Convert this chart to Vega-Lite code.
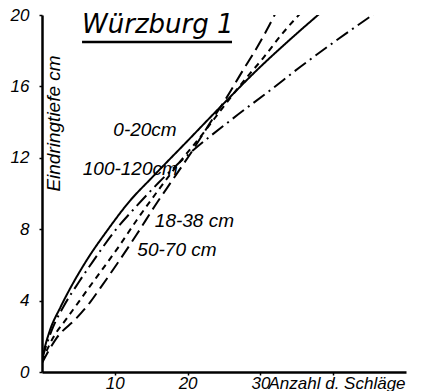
{
  "$schema": "https://vega.github.io/schema/vega-lite/v6.json",
  "width": 364,
  "height": 357,
  "autosize": {"type": "none"},
  "padding": {"left": 42, "top": 15, "right": 21, "bottom": 19},
  "background": "white",
  "config": {"view": {"stroke": null}, "font": "Liberation Sans"},
  "datasets": {
    "curves": [
      {"serie": "0-20cm", "schlaege": 0, "tiefe": 0.7},
      {"serie": "0-20cm", "schlaege": 0.4, "tiefe": 1.4},
      {"serie": "0-20cm", "schlaege": 1.1, "tiefe": 2.35},
      {"serie": "0-20cm", "schlaege": 2.5, "tiefe": 3.6},
      {"serie": "0-20cm", "schlaege": 4.3, "tiefe": 5.0},
      {"serie": "0-20cm", "schlaege": 6.2, "tiefe": 6.3},
      {"serie": "0-20cm", "schlaege": 9, "tiefe": 7.95},
      {"serie": "0-20cm", "schlaege": 12.1, "tiefe": 9.6},
      {"serie": "0-20cm", "schlaege": 15, "tiefe": 10.85},
      {"serie": "0-20cm", "schlaege": 20, "tiefe": 12.95},
      {"serie": "0-20cm", "schlaege": 24.5, "tiefe": 14.85},
      {"serie": "0-20cm", "schlaege": 30, "tiefe": 17.1},
      {"serie": "0-20cm", "schlaege": 34, "tiefe": 18.6},
      {"serie": "0-20cm", "schlaege": 38.2, "tiefe": 20.1},
      {"serie": "100-120cm", "schlaege": 0, "tiefe": 0.7},
      {"serie": "100-120cm", "schlaege": 0.6, "tiefe": 1.5},
      {"serie": "100-120cm", "schlaege": 1.5, "tiefe": 2.5},
      {"serie": "100-120cm", "schlaege": 3, "tiefe": 3.7},
      {"serie": "100-120cm", "schlaege": 5, "tiefe": 5.0},
      {"serie": "100-120cm", "schlaege": 7, "tiefe": 6.2},
      {"serie": "100-120cm", "schlaege": 10, "tiefe": 7.9},
      {"serie": "100-120cm", "schlaege": 13, "tiefe": 9.3},
      {"serie": "100-120cm", "schlaege": 16, "tiefe": 10.6},
      {"serie": "100-120cm", "schlaege": 20, "tiefe": 12.15},
      {"serie": "100-120cm", "schlaege": 25.9, "tiefe": 14.1},
      {"serie": "100-120cm", "schlaege": 31.4, "tiefe": 15.8},
      {"serie": "100-120cm", "schlaege": 35.5, "tiefe": 17.1},
      {"serie": "100-120cm", "schlaege": 40, "tiefe": 18.45},
      {"serie": "100-120cm", "schlaege": 46.1, "tiefe": 20.2},
      {"serie": "18-38 cm", "schlaege": 0, "tiefe": 0.5},
      {"serie": "18-38 cm", "schlaege": 2, "tiefe": 1.9},
      {"serie": "18-38 cm", "schlaege": 4.7, "tiefe": 3.0},
      {"serie": "18-38 cm", "schlaege": 6.6, "tiefe": 3.9},
      {"serie": "18-38 cm", "schlaege": 8, "tiefe": 4.7},
      {"serie": "18-38 cm", "schlaege": 10.3, "tiefe": 6.05},
      {"serie": "18-38 cm", "schlaege": 13, "tiefe": 7.7},
      {"serie": "18-38 cm", "schlaege": 15.5, "tiefe": 9.3},
      {"serie": "18-38 cm", "schlaege": 18, "tiefe": 10.8},
      {"serie": "18-38 cm", "schlaege": 20.5, "tiefe": 12.3},
      {"serie": "18-38 cm", "schlaege": 23, "tiefe": 13.9},
      {"serie": "18-38 cm", "schlaege": 25.4, "tiefe": 15.4},
      {"serie": "18-38 cm", "schlaege": 27.6, "tiefe": 16.9},
      {"serie": "18-38 cm", "schlaege": 29.2, "tiefe": 17.95},
      {"serie": "18-38 cm", "schlaege": 30.8, "tiefe": 19.1},
      {"serie": "18-38 cm", "schlaege": 32.2, "tiefe": 20.2},
      {"serie": "50-70 cm", "schlaege": 0, "tiefe": 0.6},
      {"serie": "50-70 cm", "schlaege": 1.5, "tiefe": 1.9},
      {"serie": "50-70 cm", "schlaege": 3.4, "tiefe": 3.0},
      {"serie": "50-70 cm", "schlaege": 5, "tiefe": 3.9},
      {"serie": "50-70 cm", "schlaege": 6.4, "tiefe": 4.7},
      {"serie": "50-70 cm", "schlaege": 8.2, "tiefe": 5.7},
      {"serie": "50-70 cm", "schlaege": 10.5, "tiefe": 7.0},
      {"serie": "50-70 cm", "schlaege": 13, "tiefe": 8.5},
      {"serie": "50-70 cm", "schlaege": 16, "tiefe": 10.2},
      {"serie": "50-70 cm", "schlaege": 19, "tiefe": 11.8},
      {"serie": "50-70 cm", "schlaege": 22, "tiefe": 13.3},
      {"serie": "50-70 cm", "schlaege": 25, "tiefe": 14.9},
      {"serie": "50-70 cm", "schlaege": 27.5, "tiefe": 16.2},
      {"serie": "50-70 cm", "schlaege": 30.4, "tiefe": 17.6},
      {"serie": "50-70 cm", "schlaege": 33.1, "tiefe": 19.0},
      {"serie": "50-70 cm", "schlaege": 35.5, "tiefe": 20.1}
    ],
    "labels": [
      {"text": "0-20cm", "schlaege": 9.8, "tiefe": 13.55},
      {"text": "100-120cm", "schlaege": 5.6, "tiefe": 11.4},
      {"text": "18-38 cm", "schlaege": 15.5, "tiefe": 8.46},
      {"text": "50-70 cm", "schlaege": 13.1, "tiefe": 6.83}
    ]
  },
  "layer": [
    {
      "data": {"name": "curves"},
      "mark": {"type": "line", "color": "black", "strokeWidth": 2, "interpolate": "monotone", "clip": true},
      "encoding": {
        "x": {
          "field": "schlaege", "type": "quantitative",
          "scale": {"domain": [0, 50], "nice": false},
          "axis": {
            "values": [10, 20, 30, 40],
            "labelExpr": "datum.value <= 30 ? datum.label : ''",
            "grid": false, "domainColor": "black", "domainWidth": 2.5,
            "tickColor": "black", "tickSize": 3, "tickWidth": 1.5,
            "labelFontSize": 17, "labelFontStyle": "italic", "labelColor": "black", "labelPadding": 0,
            "title": "Anzahl d. Schläge", "titleFontSize": 17, "titleFontStyle": "italic", "titleFontWeight": "normal",
            "titleColor": "black", "titleAlign": "left", "titleAnchor": "start", "titleBaseline": "alphabetic",
            "titleX": 226, "titleY": 16
          }
        },
        "y": {
          "field": "tiefe", "type": "quantitative",
          "scale": {"domain": [0, 20], "nice": false},
          "axis": {
            "values": [0, 4, 8, 12, 16, 20],
            "grid": false, "domainColor": "black", "domainWidth": 2.5,
            "tickColor": "black", "tickSize": 3, "tickWidth": 1.5,
            "labelFontSize": 17, "labelFontStyle": "italic", "labelColor": "black", "labelPadding": 10,
            "title": "Eindringtiefe cm", "titleFontSize": 19, "titleFontStyle": "italic", "titleFontWeight": "normal",
            "titleColor": "black", "titleAngle": -90, "titleAlign": "center", "titleBaseline": "top",
            "titleX": 2, "titleY": 108
          }
        },
        "strokeDash": {
          "field": "serie", "type": "nominal",
          "scale": {"domain": ["0-20cm", "100-120cm", "18-38 cm", "50-70 cm"],
                    "range": [[1, 0], [14, 5, 2, 5], [13, 6], [6, 5]]},
          "legend": null
        }
      }
    },
    {
      "data": {"name": "labels"},
      "mark": {"type": "text", "align": "left", "baseline": "middle", "fontSize": 19, "fontStyle": "italic", "color": "black"},
      "encoding": {
        "x": {"field": "schlaege", "type": "quantitative"},
        "y": {"field": "tiefe", "type": "quantitative"},
        "text": {"field": "text"}
      }
    },
    {
      "data": {"values": [{"titel": "Würzburg 1"}]},
      "mark": {"type": "text", "font": "DejaVu Sans", "fontSize": 26, "fontStyle": "italic", "align": "left", "baseline": "alphabetic", "color": "black"},
      "encoding": {
        "text": {"field": "titel"},
        "x": {"datum": 5.5, "type": "quantitative"},
        "y": {"datum": 19.0, "type": "quantitative"}
      }
    },
    {
      "data": {"values": [{}]},
      "mark": {"type": "rule", "color": "black", "strokeWidth": 2.5},
      "encoding": {
        "x": {"datum": 5.5, "type": "quantitative"},
        "x2": {"datum": 26.1},
        "y": {"datum": 18.49, "type": "quantitative"}
      }
    }
  ]
}
